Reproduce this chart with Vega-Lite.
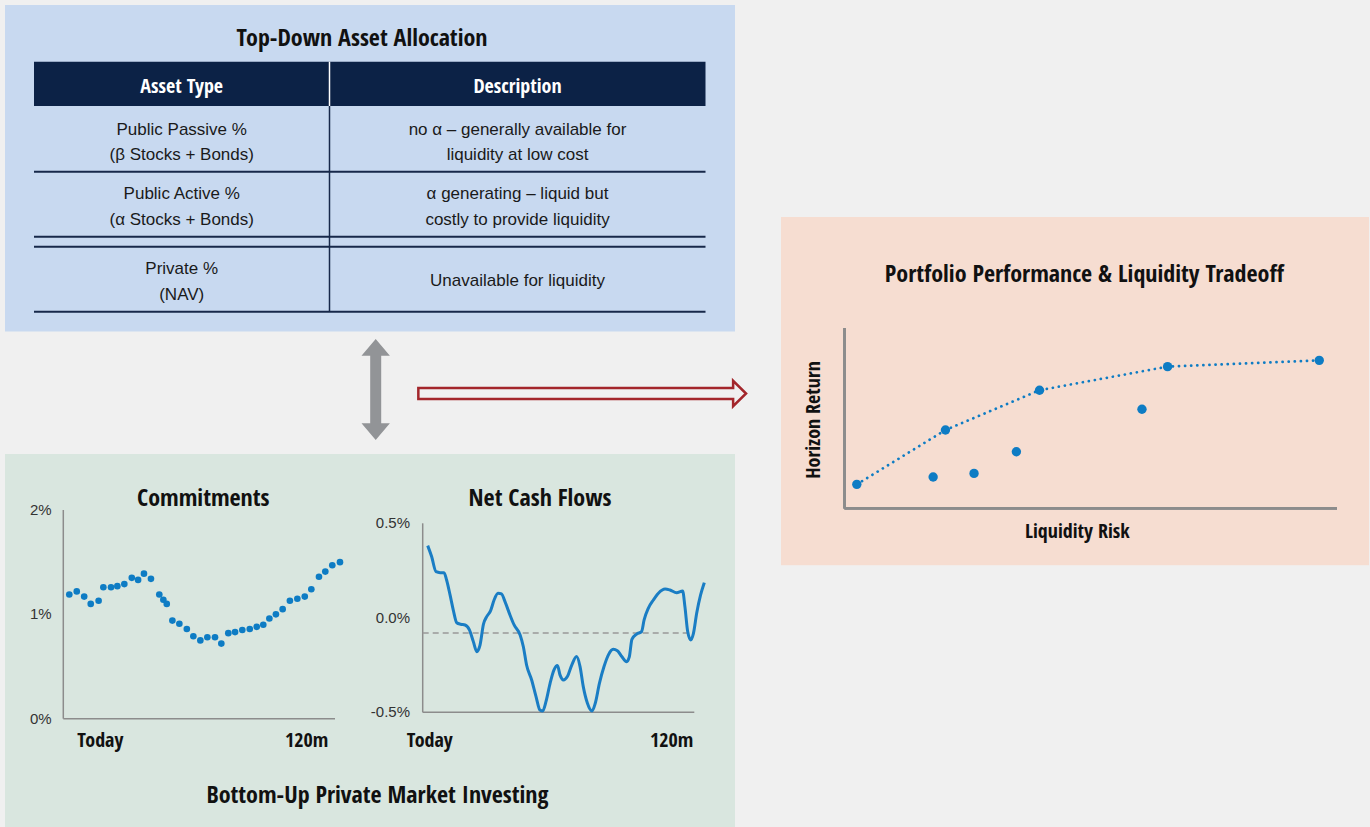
{
  "$schema": "https://vega.github.io/schema/vega-lite/v6.json",
  "width": 1370,
  "height": 827,
  "padding": 0,
  "autosize": {"type": "none"},
  "background": "#f0f0f0",
  "config": {"view": {"stroke": null}},
  "resolve": {"scale": {"x": "independent", "y": "independent"}},
  "layer": [
    {
      "data": {"values": [{"item": "layout"}]},
      "layer": [
        {
          "data": {"values": [{"panel": "Top-Down Asset Allocation"}]},
          "mark": {"type": "rect", "color": "#c8d9f0"},
          "encoding": {
            "x": {"datum": 5, "type": "quantitative", "scale": {"domain": [0, 1370], "range": [0, 1370], "zero": false, "nice": false}, "axis": null},
            "x2": {"datum": 735},
            "y": {"datum": 5, "type": "quantitative", "scale": {"domain": [0, 827], "range": [0, 827], "zero": false, "nice": false}, "axis": null},
            "y2": {"datum": 331.5}
          }
        },
        {
          "data": {"values": [{"panel": "Bottom-Up Private Market Investing"}]},
          "mark": {"type": "rect", "color": "#d9e6df"},
          "encoding": {
            "x": {"datum": 5, "type": "quantitative", "axis": null},
            "x2": {"datum": 735},
            "y": {"datum": 454, "type": "quantitative", "axis": null},
            "y2": {"datum": 827}
          }
        },
        {
          "data": {"values": [{"panel": "Portfolio Performance & Liquidity Tradeoff"}]},
          "mark": {"type": "rect", "color": "#f6ddd1"},
          "encoding": {
            "x": {"datum": 781, "type": "quantitative", "axis": null},
            "x2": {"datum": 1369},
            "y": {"datum": 217, "type": "quantitative", "axis": null},
            "y2": {"datum": 565.3}
          }
        },
        {
          "data": {"values": [{"part": "table header"}]},
          "mark": {"type": "rect", "color": "#0c2246"},
          "encoding": {
            "x": {"datum": 34, "type": "quantitative", "axis": null},
            "x2": {"datum": 705.5},
            "y": {"datum": 61.7, "type": "quantitative", "axis": null},
            "y2": {"datum": 106}
          }
        },
        {
          "data": {"values": [{"part": "row rule"}]},
          "mark": {"type": "rule", "color": "#17284a", "strokeWidth": 2},
          "encoding": {
            "x": {"datum": 34, "type": "quantitative", "axis": null},
            "x2": {"datum": 705.5},
            "y": {"datum": 171.7, "type": "quantitative", "axis": null}
          }
        },
        {
          "data": {"values": [{"part": "row rule"}]},
          "mark": {"type": "rule", "color": "#17284a", "strokeWidth": 2},
          "encoding": {
            "x": {"datum": 34, "type": "quantitative", "axis": null},
            "x2": {"datum": 705.5},
            "y": {"datum": 236.7, "type": "quantitative", "axis": null}
          }
        },
        {
          "data": {"values": [{"part": "row rule"}]},
          "mark": {"type": "rule", "color": "#17284a", "strokeWidth": 2},
          "encoding": {
            "x": {"datum": 34, "type": "quantitative", "axis": null},
            "x2": {"datum": 705.5},
            "y": {"datum": 246.7, "type": "quantitative", "axis": null}
          }
        },
        {
          "data": {"values": [{"part": "row rule"}]},
          "mark": {"type": "rule", "color": "#17284a", "strokeWidth": 2},
          "encoding": {
            "x": {"datum": 34, "type": "quantitative", "axis": null},
            "x2": {"datum": 705.5},
            "y": {"datum": 311.7, "type": "quantitative", "axis": null}
          }
        },
        {
          "data": {"values": [{"part": "column rule"}]},
          "mark": {"type": "rule", "color": "#ffffff", "strokeWidth": 1.5},
          "encoding": {
            "x": {"datum": 329.5, "type": "quantitative", "axis": null},
            "y": {"datum": 61.7, "type": "quantitative", "axis": null},
            "y2": {"datum": 106}
          }
        },
        {
          "data": {"values": [{"part": "column rule"}]},
          "mark": {"type": "rule", "color": "#17284a", "strokeWidth": 1.5},
          "encoding": {
            "x": {"datum": 329.5, "type": "quantitative", "axis": null},
            "y": {"datum": 106, "type": "quantitative", "axis": null},
            "y2": {"datum": 311.7}
          }
        },
        {
          "data": {"values": [{"arrow": "two-way"}]},
          "mark": {"type": "point", "shape": "M0,-1L0.281,-0.67L0.109,-0.67L0.109,0.67L0.281,0.67L0,1L-0.281,0.67L-0.109,0.67L-0.109,-0.67L-0.281,-0.67Z", "size": 10201, "filled": true, "color": "#929497", "opacity": 1},
          "encoding": {
            "x": {"datum": 375.7, "type": "quantitative", "axis": null},
            "y": {"datum": 389.5, "type": "quantitative", "axis": null}
          }
        },
        {
          "data": {"values": [{"arrow": "to tradeoff"}]},
          "mark": {"type": "point", "shape": "M-1,-0.0335L0.921,-0.0335L0.921,-0.0775L1,0L0.921,0.0775L0.921,0.0335L-1,0.0335Z", "size": 107400, "filled": false, "color": "#a3262b", "strokeWidth": 2.5, "strokeJoin": "miter", "opacity": 1},
          "encoding": {
            "x": {"datum": 582.2, "type": "quantitative", "axis": null},
            "y": {"datum": 393.5, "type": "quantitative", "axis": null}
          }
        },
        {
          "data": {"values": [{"title": "Top-Down Asset Allocation"}]},
          "mark": {"type": "text", "font": "Open Sans Condensed", "fontWeight": "bold", "fontSize": 24, "color": "#111111", "align": "center", "baseline": "middle"},
          "encoding": {
            "x": {"datum": 362, "type": "quantitative", "axis": null},
            "y": {"datum": 39, "type": "quantitative", "axis": null},
            "text": {"field": "title"}
          }
        },
        {
          "data": {"values": [{"title": "Commitments"}]},
          "mark": {"type": "text", "font": "Open Sans Condensed", "fontWeight": "bold", "fontSize": 24, "color": "#111111", "align": "center", "baseline": "middle"},
          "encoding": {
            "x": {"datum": 203.3, "type": "quantitative", "axis": null},
            "y": {"datum": 498.5, "type": "quantitative", "axis": null},
            "text": {"field": "title"}
          }
        },
        {
          "data": {"values": [{"title": "Net Cash Flows"}]},
          "mark": {"type": "text", "font": "Open Sans Condensed", "fontWeight": "bold", "fontSize": 24, "color": "#111111", "align": "center", "baseline": "middle"},
          "encoding": {
            "x": {"datum": 540, "type": "quantitative", "axis": null},
            "y": {"datum": 498.5, "type": "quantitative", "axis": null},
            "text": {"field": "title"}
          }
        },
        {
          "data": {"values": [{"title": "Bottom-Up Private Market Investing"}]},
          "mark": {"type": "text", "font": "Open Sans Condensed", "fontWeight": "bold", "fontSize": 24, "color": "#111111", "align": "center", "baseline": "middle"},
          "encoding": {
            "x": {"datum": 377.5, "type": "quantitative", "axis": null},
            "y": {"datum": 796, "type": "quantitative", "axis": null},
            "text": {"field": "title"}
          }
        },
        {
          "data": {"values": [{"title": "Portfolio Performance & Liquidity Tradeoff"}]},
          "mark": {"type": "text", "font": "Open Sans Condensed", "fontWeight": "bold", "fontSize": 24, "color": "#111111", "align": "center", "baseline": "middle"},
          "encoding": {
            "x": {"datum": 1084.3, "type": "quantitative", "axis": null},
            "y": {"datum": 275, "type": "quantitative", "axis": null},
            "text": {"field": "title"}
          }
        },
        {
          "data": {"values": [{"title": "Liquidity Risk"}]},
          "mark": {"type": "text", "font": "Open Sans Condensed", "fontWeight": "bold", "fontSize": 20, "color": "#111111", "align": "center", "baseline": "middle"},
          "encoding": {
            "x": {"datum": 1077.3, "type": "quantitative", "axis": null},
            "y": {"datum": 531.5, "type": "quantitative", "axis": null},
            "text": {"field": "title"}
          }
        },
        {
          "data": {"values": [{"title": "Horizon Return"}]},
          "mark": {"type": "text", "font": "Open Sans Condensed", "fontWeight": "bold", "fontSize": 20, "color": "#111111", "align": "center", "baseline": "middle", "angle": 270},
          "encoding": {
            "x": {"datum": 814.3, "type": "quantitative", "axis": null},
            "y": {"datum": 420, "type": "quantitative", "axis": null},
            "text": {"field": "title"}
          }
        }
      ]
    },
    {
      "layer": [
        {
          "data": {"values": [{"col": "Asset Type", "row": 0}, {"col": "Description", "row": 0}]},
          "mark": {"type": "text", "font": "Open Sans Condensed", "fontWeight": "bold", "fontSize": 20, "color": "#ffffff", "align": "center", "baseline": "middle"},
          "encoding": {
            "x": {"field": "col", "type": "nominal", "scale": {"type": "point", "domain": ["Asset Type", "Description"], "range": [181.7, 517.5], "padding": 0}, "axis": null},
            "y": {"field": "row", "type": "quantitative", "scale": {"domain": [0, 1, 2, 3], "range": [87, 129.5, 194.2, 269], "zero": false, "nice": false}, "axis": null},
            "text": {"field": "col"}
          }
        },
        {
          "data": {"values": [
            {"row": 1, "col": "Asset Type", "label": "Public Passive %\n(β Stocks + Bonds)"},
            {"row": 1, "col": "Description", "label": "no α – generally available for\nliquidity at low cost"},
            {"row": 2, "col": "Asset Type", "label": "Public Active %\n(α Stocks + Bonds)"},
            {"row": 2, "col": "Description", "label": "α generating – liquid but\ncostly to provide liquidity"},
            {"row": 3, "col": "Asset Type", "label": "Private %\n(NAV)"}
          ]},
          "mark": {"type": "text", "font": "Liberation Sans", "fontSize": 17, "color": "#1a1a1a", "align": "center", "baseline": "middle", "lineBreak": "\n", "lineHeight": 25.7},
          "encoding": {
            "x": {"field": "col", "type": "nominal", "axis": null},
            "y": {"field": "row", "type": "quantitative", "axis": null},
            "text": {"field": "label"}
          }
        },
        {
          "data": {"values": [{"row": 3, "col": "Description", "label": "Unavailable for liquidity"}]},
          "mark": {"type": "text", "font": "Liberation Sans", "fontSize": 17, "color": "#1a1a1a", "align": "center", "baseline": "middle", "dy": 11.7},
          "encoding": {
            "x": {"field": "col", "type": "nominal", "axis": null},
            "y": {"field": "row", "type": "quantitative", "axis": null},
            "text": {"field": "label"}
          }
        }
      ]
    },
    {
      "layer": [
        {
          "data": {"values": [{"axis": "commitments"}]},
          "mark": {"type": "rule", "color": "#8c8c8c", "strokeWidth": 1.5},
          "encoding": {
            "x": {"datum": -2.66, "type": "quantitative", "scale": {"domain": [-2.66, 117.8], "range": [63.3, 335], "zero": false, "nice": false}, "axis": null},
            "y": {"datum": 0, "type": "quantitative", "scale": {"domain": [0, 2], "range": [718.7, 510], "zero": false, "nice": false}, "axis": null},
            "y2": {"datum": 2}
          }
        },
        {
          "data": {"values": [{"axis": "commitments"}]},
          "mark": {"type": "rule", "color": "#8c8c8c", "strokeWidth": 1.5},
          "encoding": {
            "x": {"datum": -2.66, "type": "quantitative", "axis": null},
            "x2": {"datum": 117.8},
            "y": {"datum": 0, "type": "quantitative", "axis": null}
          }
        },
        {
          "data": {"values": [{"v": 0, "tick": "0%"}, {"v": 1, "tick": "1%"}, {"v": 2, "tick": "2%"}]},
          "mark": {"type": "text", "font": "Liberation Sans", "fontSize": 15, "color": "#333333", "align": "right", "baseline": "middle", "dx": -11.6},
          "encoding": {
            "x": {"datum": -2.66, "type": "quantitative", "axis": null},
            "y": {"field": "v", "type": "quantitative", "axis": null},
            "text": {"field": "tick"}
          }
        },
        {
          "data": {"values": [{"tick": "Today"}]},
          "mark": {"type": "text", "font": "Open Sans Condensed", "fontWeight": "bold", "fontSize": 20, "color": "#111111", "align": "left", "baseline": "middle", "dx": 14, "dy": 22},
          "encoding": {
            "x": {"datum": -2.66, "type": "quantitative", "axis": null},
            "y": {"datum": 0, "type": "quantitative", "axis": null},
            "text": {"field": "tick"}
          }
        },
        {
          "data": {"values": [{"tick": "120m"}]},
          "mark": {"type": "text", "font": "Open Sans Condensed", "fontWeight": "bold", "fontSize": 20, "color": "#111111", "align": "right", "baseline": "middle", "dx": -6.7, "dy": 22},
          "encoding": {
            "x": {"datum": 117.8, "type": "quantitative", "axis": null},
            "y": {"datum": 0, "type": "quantitative", "axis": null},
            "text": {"field": "tick"}
          }
        },
        {
          "data": {"values": [
            {"month": 0, "commit": 1.19}, {"month": 3.3, "commit": 1.22}, {"month": 6.6, "commit": 1.17}, {"month": 9.5, "commit": 1.1},
            {"month": 13.0, "commit": 1.13}, {"month": 15.1, "commit": 1.26}, {"month": 18.5, "commit": 1.26}, {"month": 21.3, "commit": 1.27},
            {"month": 24.4, "commit": 1.29}, {"month": 27.7, "commit": 1.35}, {"month": 30.5, "commit": 1.33}, {"month": 33.1, "commit": 1.39},
            {"month": 36.2, "commit": 1.34}, {"month": 39.9, "commit": 1.19}, {"month": 41.7, "commit": 1.14}, {"month": 43.2, "commit": 1.1},
            {"month": 45.7, "commit": 0.94}, {"month": 48.8, "commit": 0.91}, {"month": 52.1, "commit": 0.86}, {"month": 55.0, "commit": 0.79},
            {"month": 58.1, "commit": 0.75}, {"month": 61.2, "commit": 0.78}, {"month": 64.6, "commit": 0.78}, {"month": 67.4, "commit": 0.72},
            {"month": 70.5, "commit": 0.82}, {"month": 73.5, "commit": 0.83}, {"month": 76.7, "commit": 0.85}, {"month": 80.0, "commit": 0.86},
            {"month": 83.1, "commit": 0.88}, {"month": 86.0, "commit": 0.9}, {"month": 88.7, "commit": 0.96}, {"month": 91.6, "commit": 1.0},
            {"month": 94.6, "commit": 1.05}, {"month": 97.8, "commit": 1.13}, {"month": 101.1, "commit": 1.15}, {"month": 104.4, "commit": 1.17},
            {"month": 107.3, "commit": 1.24}, {"month": 110.7, "commit": 1.36}, {"month": 113.5, "commit": 1.41}, {"month": 116.6, "commit": 1.47},
            {"month": 120, "commit": 1.5}
          ]},
          "mark": {"type": "point", "filled": true, "size": 44, "color": "#0e7cc4", "opacity": 1},
          "encoding": {
            "x": {"field": "month", "type": "quantitative", "axis": null},
            "y": {"field": "commit", "type": "quantitative", "axis": null}
          }
        }
      ]
    },
    {
      "layer": [
        {
          "data": {"values": [{"axis": "net cash flows"}]},
          "mark": {"type": "rule", "color": "#8c8c8c", "strokeWidth": 1.5},
          "encoding": {
            "x": {"datum": -2.17, "type": "quantitative", "scale": {"domain": [-2.17, 115.67], "range": [422.7, 694.3], "zero": false, "nice": false}, "axis": null},
            "y": {"datum": -0.5, "type": "quantitative", "scale": {"domain": [-0.5, 0.5], "range": [712.3, 523.3], "zero": false, "nice": false}, "axis": null},
            "y2": {"datum": 0.5}
          }
        },
        {
          "data": {"values": [{"axis": "net cash flows"}]},
          "mark": {"type": "rule", "color": "#8c8c8c", "strokeWidth": 1.5},
          "encoding": {
            "x": {"datum": -2.17, "type": "quantitative", "axis": null},
            "x2": {"datum": 115.67},
            "y": {"datum": -0.5, "type": "quantitative", "axis": null}
          }
        },
        {
          "data": {"values": [{"reference": "average", "level": -0.08}]},
          "mark": {"type": "rule", "color": "#999999", "strokeWidth": 1.5, "strokeDash": [6, 4]},
          "encoding": {
            "x": {"datum": -2.17, "type": "quantitative", "axis": null},
            "x2": {"datum": 115.67},
            "y": {"field": "level", "type": "quantitative", "axis": null}
          }
        },
        {
          "data": {"values": [{"v": -0.5, "tick": "-0.5%"}, {"v": 0, "tick": "0.0%"}, {"v": 0.5, "tick": "0.5%"}]},
          "mark": {"type": "text", "font": "Liberation Sans", "fontSize": 15, "color": "#333333", "align": "right", "baseline": "middle", "dx": -12.7},
          "encoding": {
            "x": {"datum": -2.17, "type": "quantitative", "axis": null},
            "y": {"field": "v", "type": "quantitative", "axis": null},
            "text": {"field": "tick"}
          }
        },
        {
          "data": {"values": [{"tick": "Today"}]},
          "mark": {"type": "text", "font": "Open Sans Condensed", "fontWeight": "bold", "fontSize": 20, "color": "#111111", "align": "left", "baseline": "middle", "dx": -16, "dy": 28.2},
          "encoding": {
            "x": {"datum": -2.17, "type": "quantitative", "axis": null},
            "y": {"datum": -0.5, "type": "quantitative", "axis": null},
            "text": {"field": "tick"}
          }
        },
        {
          "data": {"values": [{"tick": "120m"}]},
          "mark": {"type": "text", "font": "Open Sans Condensed", "fontWeight": "bold", "fontSize": 20, "color": "#111111", "align": "right", "baseline": "middle", "dx": -1, "dy": 28.2},
          "encoding": {
            "x": {"datum": 115.67, "type": "quantitative", "axis": null},
            "y": {"datum": -0.5, "type": "quantitative", "axis": null},
            "text": {"field": "tick"}
          }
        },
        {
          "data": {"values": [
            {"month": 0, "flow": 0.382}, {"month": 1.7, "flow": 0.324}, {"month": 3.6, "flow": 0.244}, {"month": 5.4, "flow": 0.239},
            {"month": 7.1, "flow": 0.239}, {"month": 8.2, "flow": 0.2}, {"month": 9.7, "flow": 0.121}, {"month": 11.1, "flow": 0.041},
            {"month": 12.6, "flow": -0.026}, {"month": 14.3, "flow": -0.034}, {"month": 16.2, "flow": -0.038}, {"month": 18.1, "flow": -0.064},
            {"month": 19.8, "flow": -0.126}, {"month": 21.3, "flow": -0.179}, {"month": 22.7, "flow": -0.144}, {"month": 24.2, "flow": -0.033},
            {"month": 25.6, "flow": 0.006}, {"month": 27.3, "flow": 0.038}, {"month": 28.8, "flow": 0.094}, {"month": 30.5, "flow": 0.13},
            {"month": 32.0, "flow": 0.126}, {"month": 33.7, "flow": 0.08}, {"month": 35.7, "flow": 0.015}, {"month": 37.5, "flow": -0.038},
            {"month": 40.1, "flow": -0.091}, {"month": 41.5, "flow": -0.153}, {"month": 42.9, "flow": -0.25}, {"month": 45.1, "flow": -0.329},
            {"month": 47.0, "flow": -0.417}, {"month": 48.7, "flow": -0.488}, {"month": 49.9, "flow": -0.493}, {"month": 51.3, "flow": -0.444},
            {"month": 53.1, "flow": -0.347}, {"month": 54.8, "flow": -0.276}, {"month": 56.3, "flow": -0.253}, {"month": 57.4, "flow": -0.302},
            {"month": 58.9, "flow": -0.329}, {"month": 60.6, "flow": -0.311}, {"month": 62.5, "flow": -0.25}, {"month": 64.6, "flow": -0.205},
            {"month": 66.1, "flow": -0.258}, {"month": 67.5, "flow": -0.364}, {"month": 69.3, "flow": -0.452}, {"month": 71.3, "flow": -0.493},
            {"month": 72.7, "flow": -0.452}, {"month": 74.5, "flow": -0.347}, {"month": 76.5, "flow": -0.258}, {"month": 78.4, "flow": -0.196},
            {"month": 80.5, "flow": -0.167}, {"month": 82.3, "flow": -0.174}, {"month": 84.2, "flow": -0.205}, {"month": 86.3, "flow": -0.232},
            {"month": 87.5, "flow": -0.205}, {"month": 88.6, "flow": -0.114}, {"month": 90.7, "flow": -0.086}, {"month": 92.8, "flow": -0.073},
            {"month": 93.9, "flow": -0.011}, {"month": 95.7, "flow": 0.05}, {"month": 97.9, "flow": 0.094}, {"month": 100.1, "flow": 0.13},
            {"month": 103.0, "flow": 0.152}, {"month": 105.1, "flow": 0.147}, {"month": 108.0, "flow": 0.133}, {"month": 110.6, "flow": 0.142},
            {"month": 111.6, "flow": 0.059}, {"month": 112.8, "flow": -0.073}, {"month": 114.1, "flow": -0.117}, {"month": 115.3, "flow": -0.082},
            {"month": 116.7, "flow": 0.024}, {"month": 118.4, "flow": 0.121}, {"month": 120, "flow": 0.186}
          ]},
          "mark": {"type": "line", "color": "#1a7dc4", "strokeWidth": 3, "interpolate": "monotone"},
          "encoding": {
            "x": {"field": "month", "type": "quantitative", "axis": null},
            "y": {"field": "flow", "type": "quantitative", "axis": null}
          }
        }
      ]
    },
    {
      "data": {"values": [
        {"portfolio": "A", "risk": 0.25, "ret": 1.33, "frontier": true},
        {"portfolio": "B", "risk": 1.80, "ret": 1.74, "frontier": false},
        {"portfolio": "C", "risk": 2.63, "ret": 1.94, "frontier": false},
        {"portfolio": "D", "risk": 3.49, "ret": 3.14, "frontier": false},
        {"portfolio": "E", "risk": 2.05, "ret": 4.35, "frontier": true},
        {"portfolio": "F", "risk": 3.96, "ret": 6.56, "frontier": true},
        {"portfolio": "G", "risk": 6.04, "ret": 5.50, "frontier": false},
        {"portfolio": "H", "risk": 6.56, "ret": 7.87, "frontier": true},
        {"portfolio": "I", "risk": 9.64, "ret": 8.22, "frontier": true}
      ]},
      "layer": [
        {
          "mark": {"type": "rule", "color": "#8c8c8c", "strokeWidth": 2},
          "encoding": {
            "x": {"datum": 0, "type": "quantitative", "scale": {"domain": [0, 10], "range": [844.5, 1337], "zero": false, "nice": false}, "axis": null},
            "y": {"datum": 0, "type": "quantitative", "scale": {"domain": [0, 10], "range": [508.3, 328.3], "zero": false, "nice": false}, "axis": null},
            "y2": {"datum": 10}
          }
        },
        {
          "mark": {"type": "rule", "color": "#8c8c8c", "strokeWidth": 2},
          "encoding": {
            "x": {"datum": 0, "type": "quantitative", "axis": null},
            "x2": {"datum": 10},
            "y": {"datum": 0, "type": "quantitative", "axis": null}
          }
        },
        {
          "transform": [{"filter": "datum.frontier"}],
          "mark": {"type": "line", "color": "#0e7cc4", "strokeWidth": 2.7, "strokeDash": [0.1, 6], "strokeCap": "round"},
          "encoding": {
            "x": {"field": "risk", "type": "quantitative", "axis": null},
            "y": {"field": "ret", "type": "quantitative", "axis": null}
          }
        },
        {
          "mark": {"type": "point", "filled": true, "size": 88, "color": "#0e7cc4", "opacity": 1},
          "encoding": {
            "x": {"field": "risk", "type": "quantitative", "axis": null},
            "y": {"field": "ret", "type": "quantitative", "axis": null}
          }
        }
      ]
    }
  ]
}
